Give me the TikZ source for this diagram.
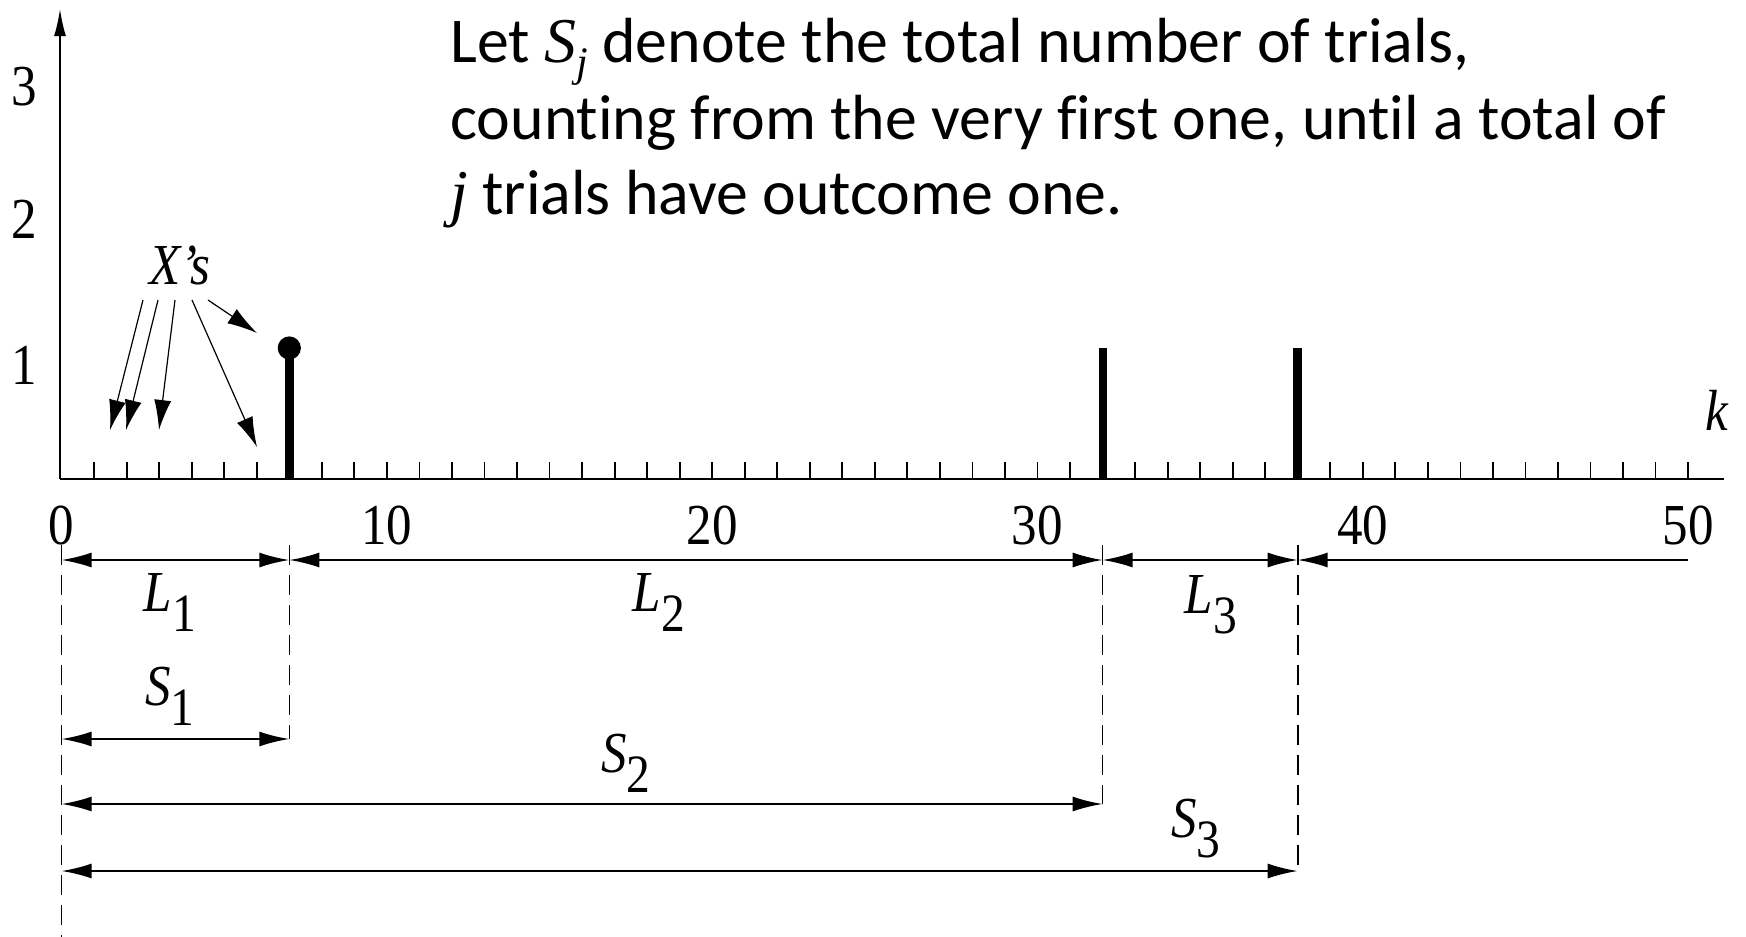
\documentclass[tikz,border=0pt]{standalone}
\usepackage{fontspec}
\setmainfont{Liberation Serif}[FakeStretch=0.88]
\newfontfamily\calib{Carlito}[RawFeature=-liga]
\newfontfamily\cmbit{Liberation Serif Italic}
\usetikzlibrary{arrows.meta}
\tikzset{
  axisline/.style={line width=1.3pt},
  tickline/.style={line width=0.9pt},
  stemline/.style={line width=4.5pt},
  dimarrow/.style={line width=1pt,{Latex[length=15pt,width=7.5pt]}-{Latex[length=15pt,width=7.5pt]}},
  leftarrow/.style={line width=1pt,{Latex[length=15pt,width=7.5pt]}-},
  guide/.style={line width=0.8pt,dash pattern=on 10pt off 5pt},
  pointer/.style={line width=0.6pt,-{Latex[length=15pt,width=8.5pt]}},
  lbl/.style={inner sep=0pt,font=\fontsize{29}{29}\selectfont},
  body/.style={inner sep=0pt,anchor=base west,font=\calib\fontsize{31.9}{34}\selectfont},
}
\newcommand\sublab[2]{\textit{#1}\raisebox{-10pt}{\fontsize{27}{27}\selectfont #2}}
\begin{document}
\begin{tikzpicture}[x=0.5pt,y=-0.5pt]
\useasboundingbox (0,0) rectangle (1746,937);
% axes
\coordinate (O) at (60,479);
\coordinate (ytop) at (60,8);
\coordinate (xend) at (1724,479);
\draw[axisline,-{Latex[length=14pt,width=6pt]}] (O) -- (ytop);
\draw[axisline] (O) -- (xend);
\foreach \k in {1,...,50} \draw[tickline] ({61.6+32.53*\k},479) -- ++(0,-17);
% y labels
\node[lbl] (y3) at (24.5,87) {3};
\node[lbl] (y2) at (24.5,219) {2};
\node[lbl] (y1) at (24.5,365) {1};
% x labels
\node[lbl] (x0) at (61.6,525) {0};
\node[lbl] (x10) at (386.9,525) {10};
\node[lbl] (x20) at (712.2,525) {20};
\node[lbl] (x30) at (1037.5,525) {30};
\node[lbl] (x40) at (1362.8,525) {40};
\node[lbl] (x50) at (1688.1,525) {50};
\node[lbl] (klab) at (1717,410) {\textit{k}};
% stems
\coordinate (b7) at (289.3,479); \coordinate (t7) at (289.3,348);
\coordinate (b32) at (1102.6,479); \coordinate (t32) at (1102.6,348);
\coordinate (b38) at (1297.7,479); \coordinate (t38) at (1297.7,348);
\draw[stemline] (b7) -- (t7);
\fill (t7) circle[radius=5.8pt];
\draw[stemline,line width=4pt] (b32) -- (t32);
\draw[stemline] (b38) -- (t38);
% X's
\node[lbl] (xs) at (180,265) {\textit{X’s}};
\coordinate (p1) at (143,300); \coordinate (q1) at (110,430);
\coordinate (p2) at (158,300); \coordinate (q2) at (126,430);
\coordinate (p3) at (175,300); \coordinate (q3) at (159,430);
\coordinate (p4) at (192,300); \coordinate (q4) at (257,447);
\coordinate (p5) at (208,300); \coordinate (q5) at (257,333);
\foreach \i in {1,...,5} \draw[pointer] (p\i) -- (q\i);
% dimension row
\coordinate (d0) at (61.6,560);
\coordinate (d7) at (289.3,560);
\coordinate (d32) at (1102.6,560);
\coordinate (d38) at (1297.7,560);
\coordinate (d50) at (1688.1,560);
\draw[dimarrow] (d0) -- (d7);
\draw[dimarrow] (d7) -- (d32);
\draw[dimarrow] (d32) -- (d38);
\draw[leftarrow] (d38) -- (d50);
% guides
\coordinate (g0) at (61.6,545); \coordinate (h0) at (61.6,937);
\coordinate (g7) at (289.3,545); \coordinate (h7) at (289.3,739);
\coordinate (g32) at (1102.6,545); \coordinate (h32) at (1102.6,804);
\coordinate (g38) at (1297.7,545); \coordinate (h38) at (1297.7,871);
\draw[guide] (g0) -- (h0);
\draw[guide] (g7) -- (h7);
\draw[guide] (g32) -- (h32);
\draw[guide] (g38) -- (h38);
% S arrows
\coordinate (s1a) at (61.6,739);
\coordinate (s2a) at (61.6,804);
\coordinate (s3a) at (61.6,871);
\draw[dimarrow] (s1a) -- (h7);
\draw[dimarrow] (s2a) -- (h32);
\draw[dimarrow] (s3a) -- (h38);
% labels
\node[lbl] (L1) at (170,603) {\sublab{L}{1}};
\node[lbl] (L2) at (659,603) {\sublab{L}{2}};
\node[lbl] (L3) at (1211,605) {\sublab{L}{3}};
\node[lbl] (S1) at (170,696) {\sublab{S}{1}};
\node[lbl] (S2) at (626,763) {\sublab{S}{2}};
\node[lbl] (S3) at (1196,829) {\sublab{S}{3}};
% text
\node[body] (t1) at (450,62) {Let {\cmbit S}\raisebox{-7pt}{\cmbit\fontsize{21}{21}\selectfont j} denote the total number of trials,};
\node[body] (t2) at (450,139) {counting from the very first one, until a total of};
\node[body] (t3) at (450,214) {{\cmbit j} trials have outcome one.};
\end{tikzpicture}
\end{document}
